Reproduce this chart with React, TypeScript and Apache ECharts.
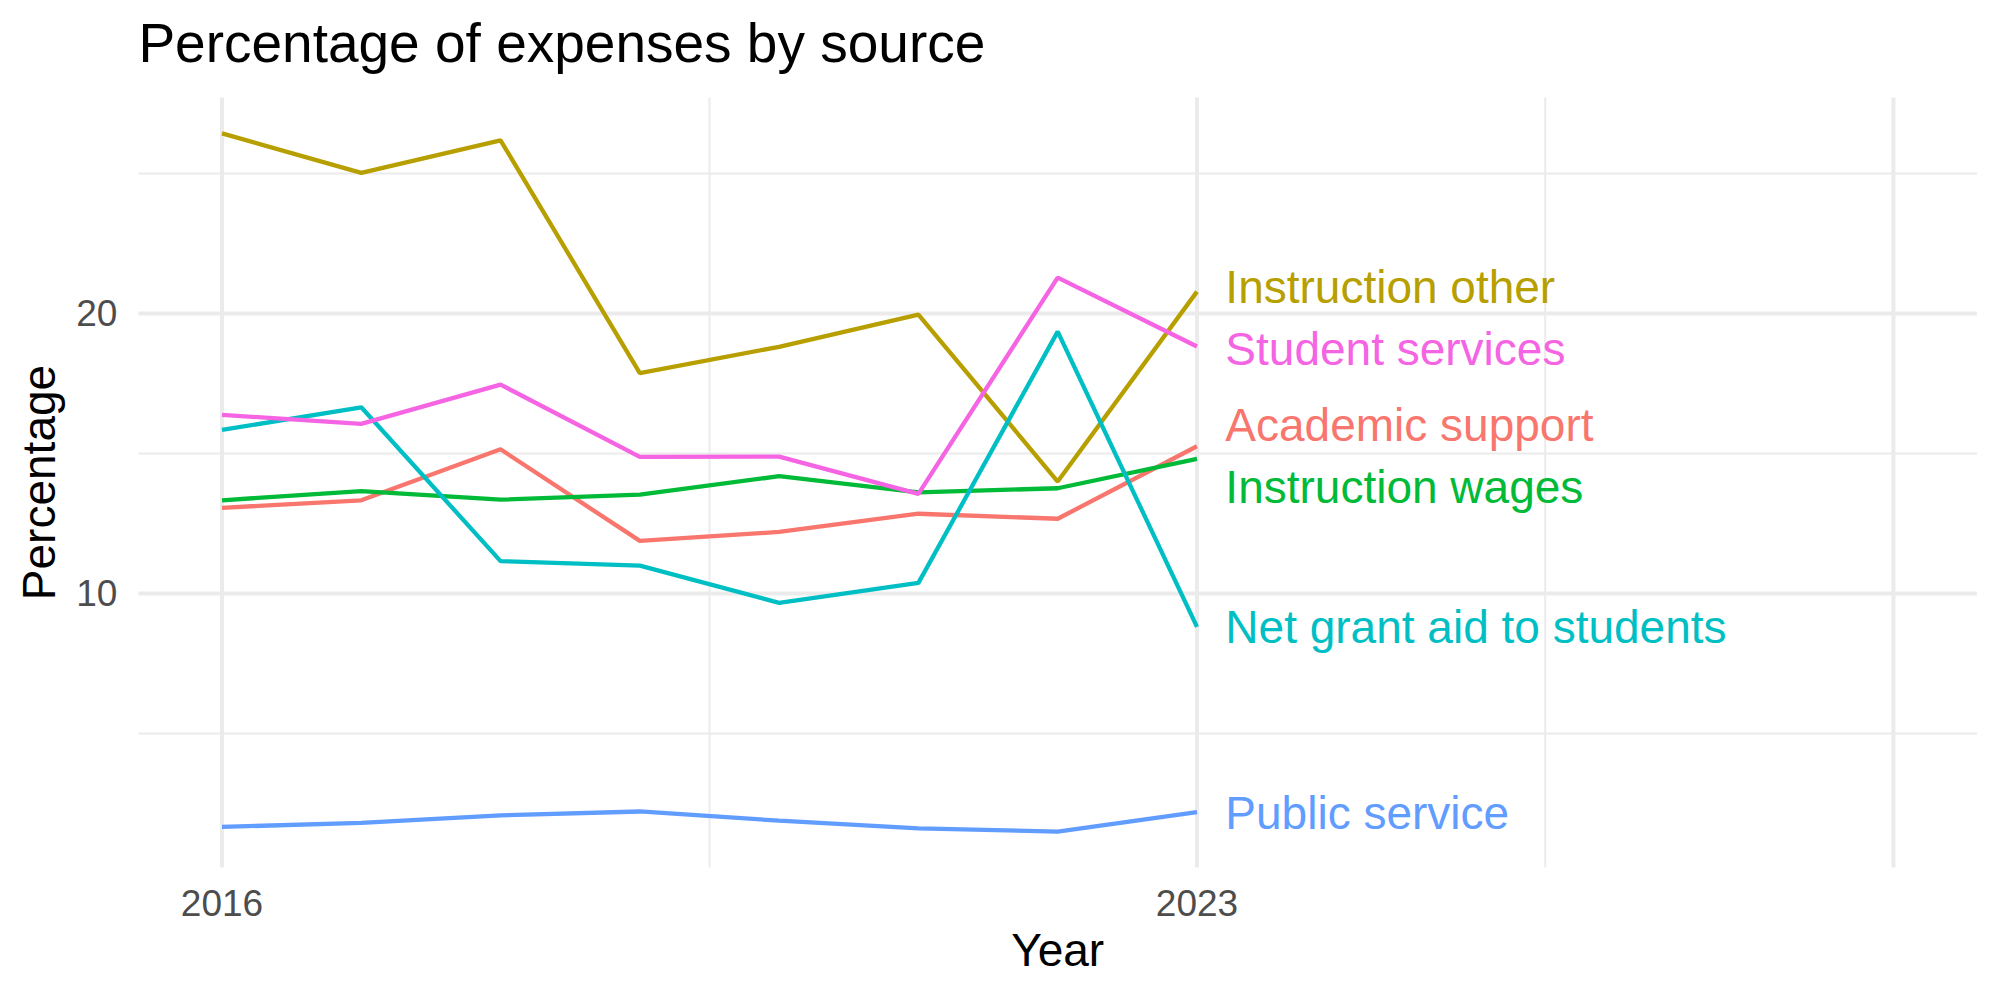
import React, { useEffect, useRef } from 'react';
import * as echarts from 'echarts';

// ---- data ----
const years = [2016, 2017, 2018, 2019, 2020, 2021, 2022, 2023];
const seriesNames = [
  'Academic support',
  'Instruction other',
  'Instruction wages',
  'Net grant aid to students',
  'Public service',
  'Student services',
];
const academicSupport = [13.06, 13.33, 15.15, 11.88, 12.2, 12.85, 12.67, 15.26];
const instructionOther = [26.43, 25.02, 26.18, 17.87, 18.81, 19.96, 14.0, 20.78];
const instructionWages = [13.33, 13.66, 13.35, 13.53, 14.19, 13.61, 13.76, 14.81];
const netGrantAid = [15.84, 16.65, 11.16, 11.0, 9.67, 10.38, 19.35, 8.81];
const publicService = [1.67, 1.81, 2.08, 2.22, 1.89, 1.62, 1.5, 2.2];
const studentServices = [16.38, 16.06, 17.46, 14.88, 14.89, 13.56, 21.28, 18.82];
const seriesValues = [academicSupport, instructionOther, instructionWages, netGrantAid, publicService, studentServices];

// direct labels (repelled positions, in data units)
const labelYear = 2023.2;
const labelValues = [16.02, 20.94, 13.8, 8.79, 2.16, 18.73];

// axes
const xTickLabels = [2016, 2023];
const yTickLabels = [10, 20];
const xMajorBreaks = [2016, 2023, 2028];
const xMinorBreaks = [2019.5, 2025.5];
const yMajorBreaks = [10, 20];
const yMinorBreaks = [5, 15, 25];
const xLimits = [2015.4, 2028.6];
const yLimits = [0.22, 27.71];

const colors = ['#F8766D', '#B79F00', '#00BA38', '#00BFC4', '#619CFF', '#F564E3'];
const FONT = '"Liberation Sans", Arial, Helvetica, sans-serif';

export default function App() {
  const ref = useRef<HTMLDivElement>(null);

  useEffect(() => {
    if (!ref.current) return;
    const chart = echarts.init(ref.current, undefined, { renderer: 'svg' });

    const gridData: number[][] = [];
    xMajorBreaks.forEach((v) => gridData.push([v, yLimits[0], 1, 0]));
    xMinorBreaks.forEach((v) => gridData.push([v, yLimits[0], 0, 0]));
    yMajorBreaks.forEach((v) => gridData.push([xLimits[0], v, 1, 1]));
    yMinorBreaks.forEach((v) => gridData.push([xLimits[0], v, 0, 1]));

    const lineSeries = seriesNames.map((name, i) => ({
      type: 'line',
      name,
      data: years.map((y, k) => [y, seriesValues[i][k]]),
      showSymbol: false,
      symbol: 'none',
      lineStyle: { color: colors[i], width: 4.3, opacity: 1 },
      itemStyle: { color: colors[i] },
      z: 3 + i,
      silent: true,
    }));

    const option = {
      animation: false,
      backgroundColor: '#FFFFFF',
      grid: { left: 138.4, top: 97.5, width: 1838.6, height: 770, containLabel: false },
      xAxis: {
        type: 'value',
        min: xLimits[0],
        max: xLimits[1],
        axisLine: { show: false },
        axisTick: { show: false },
        splitLine: { show: false },
        axisLabel: {
          customValues: xTickLabels,
          formatter: (v: number) => (xTickLabels.includes(v) ? String(v) : ''),
          fontSize: 37,
          color: '#4D4D4D',
          fontFamily: FONT,
          margin: 17,
        },
      },
      yAxis: {
        type: 'value',
        min: yLimits[0],
        max: yLimits[1],
        axisLine: { show: false },
        axisTick: { show: false },
        splitLine: { show: false },
        axisLabel: {
          customValues: yTickLabels,
          formatter: (v: number) => (yTickLabels.includes(v) ? String(v) : ''),
          fontSize: 37,
          color: '#4D4D4D',
          fontFamily: FONT,
          margin: 21,
        },
      },
      graphic: [
        {
          type: 'text',
          x: 138.4,
          y: 43,
          style: {
            text: 'Percentage of expenses by source',
            font: `55px ${FONT}`,
            fill: '#000000',
            align: 'left',
            verticalAlign: 'middle',
          },
        },
        {
          type: 'text',
          x: 1057.7,
          y: 950,
          style: {
            text: 'Year',
            font: `46px ${FONT}`,
            fill: '#000000',
            align: 'center',
            verticalAlign: 'middle',
          },
        },
        {
          type: 'text',
          x: 39,
          y: 482.5,
          rotation: Math.PI / 2,
          style: {
            text: 'Percentage',
            font: `46px ${FONT}`,
            fill: '#000000',
            align: 'center',
            verticalAlign: 'middle',
          },
        },
      ],
      series: [
        {
          type: 'custom',
          z: 0,
          silent: true,
          clip: false,
          data: gridData,
          renderItem: (params: any, api: any) => {
            const cs = params.coordSys;
            const major = api.value(2) === 1;
            const dir = api.value(3);
            const pt = api.coord([api.value(0), api.value(1)]);
            const shape =
              dir === 0
                ? { x1: pt[0], y1: cs.y, x2: pt[0], y2: cs.y + cs.height }
                : { x1: cs.x, y1: pt[1], x2: cs.x + cs.width, y2: pt[1] };
            return {
              type: 'line',
              shape,
              style: { stroke: '#EBEBEB', lineWidth: major ? 4 : 2 },
            };
          },
        },
        ...lineSeries,
        {
          type: 'scatter',
          silent: true,
          z: 20,
          symbolSize: 1,
          itemStyle: { color: 'rgba(0,0,0,0)', opacity: 1 },
          data: seriesNames.map((name, i) => ({
            name,
            value: [labelYear, labelValues[i]],
            label: {
              show: true,
              position: 'right',
              distance: 0,
              formatter: '{b}',
              color: colors[i],
              opacity: 1,
              fontSize: 46,
              fontFamily: FONT,
            },
          })),
        },
      ],
    };

    chart.setOption(option as any);
    return () => {
      chart.dispose();
    };
  }, []);

  return (
    <div
      ref={ref}
      style={{ position: 'absolute', left: 0, top: 0, width: 2000, height: 1000, background: '#fff' }}
    />
  );
}
